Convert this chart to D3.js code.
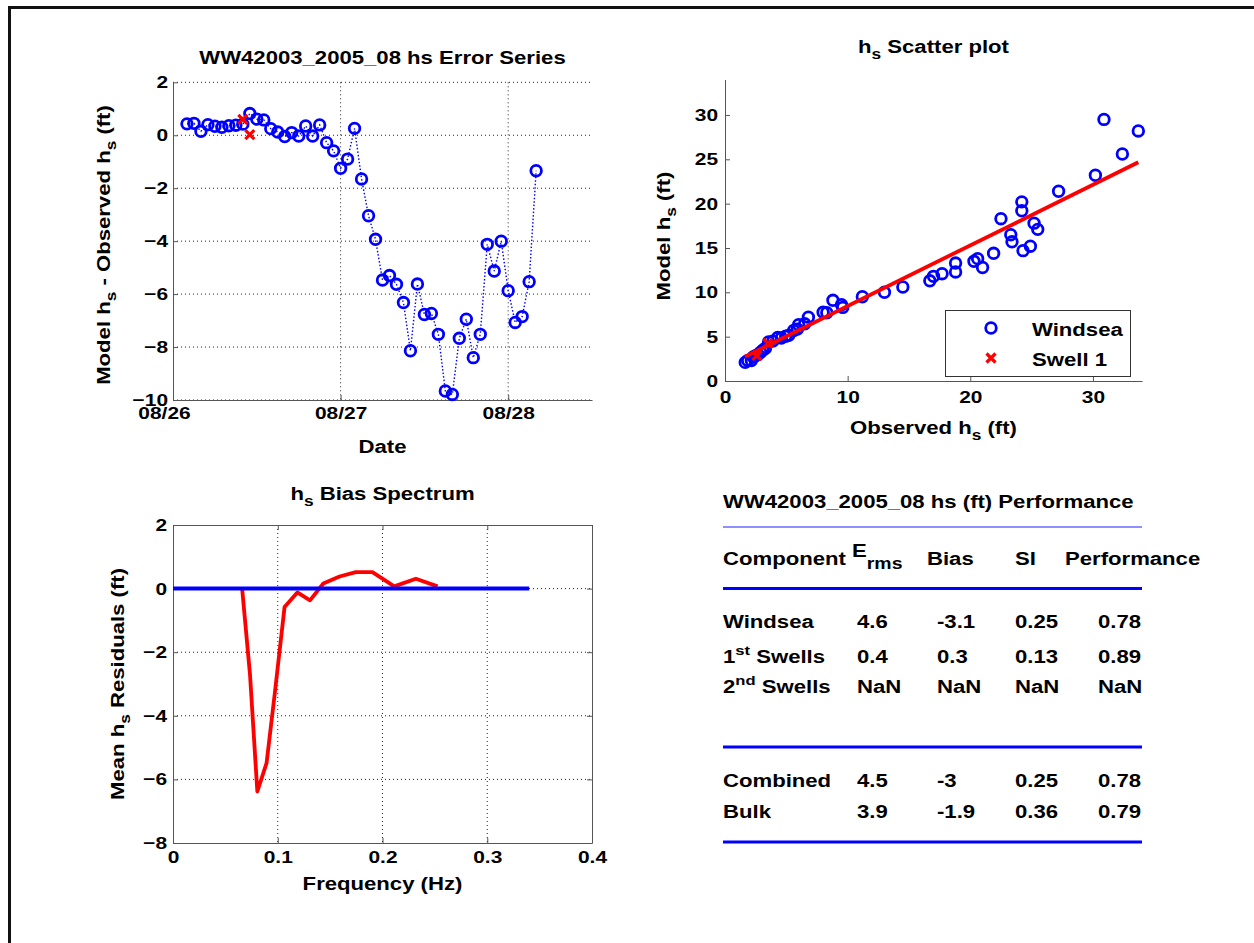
<!DOCTYPE html>
<html><head><meta charset="utf-8">
<script src="https://cdn.jsdelivr.net/npm/d3@7"></script>
<style>
html,body{margin:0;padding:0;background:#fff;}
svg{display:block;}
text{font-family:"Liberation Sans",Arial,Helvetica,sans-serif;font-weight:bold;fill:#000;white-space:pre;}
</style></head><body>
<svg id="fig" width="1254" height="943"></svg>
<script>
// ---------------- DATA ----------------
// Error series (Model hs - Observed hs), hours after 2005-08-26 00:00 UTC
const errStart = "2005-08-26T00:00:00Z";
const errHours = [2,3,4,5,6,7,8,9,10,11,12,13,14,15,16,17,18,19,20,21,22,23,24,25,26,27,28,29,30,31,32,33,34,35,36,37,38,39,40,41,42,43,44,45,46,47,48,49,50,51,52];
const errWindsea = [0.43,0.45,0.15,0.40,0.34,0.30,0.36,0.38,0.42,0.82,0.61,0.58,0.25,0.12,-0.05,0.10,-0.03,0.35,-0.03,0.39,-0.28,-0.59,-1.25,-0.90,0.26,-1.65,-3.04,-3.93,-5.47,-5.30,-5.63,-6.32,-8.14,-5.62,-6.77,-6.73,-7.52,-9.66,-9.79,-7.67,-6.95,-8.40,-7.52,-4.12,-5.13,-4.00,-5.87,-7.07,-6.85,-5.53,-1.34];
const swellHours = [10, 11];
const errSwell = [0.60, 0.02];
const dateTicks = ["2005-08-26T00:00:00Z","2005-08-27T00:00:00Z","2005-08-28T00:00:00Z"];
const dateTickLabels = ["08/26","08/27","08/28"];
const errEnd = "2005-08-28T12:00:00Z";
const errYTicks = [2,0,-2,-4,-6,-8,-10];

// Scatter plot
const obsWindsea = [1.65,1.85,2.15,2.30,2.50,2.70,2.90,3.10,3.30,3.55,3.90,4.30,4.60,4.95,5.20,5.60,5.90,6.00,6.50,6.80,8.00,8.30,9.60,9.50,8.80,11.20,13.00,14.50,16.70,17.00,17.70,18.80,21.00,18.80,20.60,20.30,21.90,24.30,24.90,23.40,23.30,25.50,25.20,22.50,24.20,24.20,27.20,30.20,32.40,33.70,30.90];
const modWindsea = [2.10,2.30,2.30,2.70,2.85,3.00,3.25,3.50,3.70,4.40,4.50,4.90,4.85,5.05,5.15,5.70,5.85,6.35,6.45,7.20,7.75,7.70,8.30,8.60,9.10,9.50,10.00,10.60,11.30,11.80,12.10,12.30,12.80,13.30,13.80,13.50,14.40,14.70,15.20,15.70,16.50,17.10,17.80,18.30,19.20,20.20,21.40,23.20,25.60,28.20,29.50];
const obsSwell = [3.50, 2.60];
const modSwell = [4.25, 2.85];
const fitObs = [1.63, 33.70];
const fitMod = [2.74, 24.66];
const scatterMax = 34;
const scatterXTicks = [0,10,20,30];
const scatterYTicks = [0,5,10,15,20,25,30];
const legendLabels = ["Windsea","Swell 1"];

// Bias spectrum
const biasFreq = [0.0660,0.0735,0.0805,0.0893,0.0975,0.1065,0.1187,0.1308,0.1435,0.1590,0.1745,0.1904,0.2112,0.2319,0.2526];
const biasVal  = [0.00,-2.70,-6.38,-5.49,-3.20,-0.58,-0.12,-0.37,0.16,0.38,0.52,0.52,0.07,0.31,0.07];
const zeroFreq = [0, 0.34];
const zeroVal  = [0, 0];
const biasXTicks = [0,0.1,0.2,0.3,0.4];
const biasYTicks = [2,0,-2,-4,-6,-8];

// Performance table
const tableTitle = "WW42003_2005_08 hs (ft) Performance";
const tableHeaders = ["Component","E_{rms}","Bias","SI","Performance"];
const components = ["Windsea","1^{st} Swells","2^{nd} Swells","Combined","Bulk"];
const ermsVals = [4.6,0.4,NaN,4.5,3.9];
const biasVals = [-3.1,0.3,NaN,-3,-1.9];
const siVals   = [0.25,0.13,NaN,0.25,0.36];
const perfVals = [0.78,0.89,NaN,0.78,0.79];

// ---------------- DRAWING ----------------
const SX = 1.23;          // horizontal glyph stretch of the original figure
const BLUE = "#0000ff", RED = "#ff0000", AX = "#555";
const R = 5.3, RW = 2.8;  // circle marker
const XM = "M-4.5,-4.5L4.5,4.5M-4.5,4.5L4.5,-4.5";
const svg = d3.select("#fig");

function rich(parent, x, y, str, o = {}) {
  const size = o.size || 18, anchor = o.anchor || "start", rot = o.rotate || 0;
  const subShift = o.subShift != null ? o.subShift : 0.36 * size;
  const supShift = o.supShift != null ? o.supShift : -0.45 * size;
  const subScale = o.subScale || 0.78;
  const g = parent.append("g").attr("transform", `translate(${x},${y}) rotate(${rot}) scale(${SX},1)`);
  const t = g.append("text").attr("text-anchor", anchor).style("font-size", size + "px");
  const re = /([_^])\{([^}]*)\}/g; let last = 0, m, cur = 0;
  const add = (s, shift, fs) => { if (!s) return; t.append("tspan").attr("dy", shift - cur).style("font-size", fs + "px").text(s); cur = shift; };
  while ((m = re.exec(str)) !== null) {
    add(str.slice(last, m.index), 0, size);
    add(m[2], m[1] === "_" ? subShift : supShift, size * subScale);
    last = re.lastIndex;
  }
  add(str.slice(last), 0, size);
  return g;
}

function styleAxis(g, padX, isLeft) {
  g.attr("font-family", null).attr("font-size", null);
  g.select(".domain").attr("stroke", AX).attr("stroke-width", 1);
  g.selectAll(".tick line").attr("stroke", AX).attr("stroke-width", 1);
  const tx = g.selectAll(".tick text").style("font-size", "17px").attr("fill", "#000")
    .attr("transform", `scale(${SX},1)`);
  if (isLeft) tx.attr("x", -padX / SX);
}

function dotted(sel) { return sel.attr("stroke", "#222").attr("stroke-width", 1).attr("stroke-dasharray", "1,3"); }

// figure frame (top & left edges)
svg.append("line").attr("x1", 8).attr("x2", 1254).attr("y1", 7.5).attr("y2", 7.5).attr("stroke", "#111").attr("stroke-width", 3);
svg.append("line").attr("x1", 9.5).attr("x2", 9.5).attr("y1", 6).attr("y2", 943).attr("stroke", "#111").attr("stroke-width", 3);

// ===== Panel A: error series =====
(function () {
  const P = { l: 173, r: 592, t: 82.3, b: 400 };
  const t0 = new Date(errStart);
  const hd = h => new Date(t0.getTime() + h * 3600e3);
  const x = d3.scaleUtc().domain([t0, new Date(errEnd)]).range([P.l, P.r]);
  const y = d3.scaleLinear().domain([-10, 2]).range([P.b, P.t]);
  const g = svg.append("g");
  const tickDates = dateTicks.map(d => new Date(d));
  // grid
  g.append("g").selectAll("line.h").data(errYTicks).join("line")
    .attr("x1", P.l).attr("x2", P.r).attr("y1", d => y(d)).attr("y2", d => y(d)).call(dotted);
  g.append("g").selectAll("line.v").data(tickDates.slice(1)).join("line")
    .attr("x1", d => x(d)).attr("x2", d => x(d)).attr("y1", P.t).attr("y2", P.b).call(dotted);
  // axes
  const ax = g.append("g").attr("transform", `translate(0,${P.b})`)
    .call(d3.axisBottom(x).tickValues(tickDates).tickFormat((d, i) => dateTickLabels[i]).tickSizeInner(-5).tickSizeOuter(0).tickPadding(7));
  styleAxis(ax, 0, false);
  // first date label sits a little left of its tick in the original
  ax.selectAll(".tick text").filter((d, i) => i === 0).attr("x", -9 / SX);
  const ay = g.append("g").attr("transform", `translate(${P.l},0)`)
    .call(d3.axisLeft(y).tickValues(errYTicks).tickSizeInner(-5).tickSizeOuter(0).tickPadding(5));
  styleAxis(ay, 5, true);
  // data
  const pts = errHours.map((h, i) => ({ t: hd(h), v: errWindsea[i] }));
  g.append("path").datum(pts).attr("fill", "none").attr("stroke", BLUE).attr("stroke-width", 1.4)
    .attr("stroke-dasharray", "1.5,2").attr("d", d3.line().x(d => x(d.t)).y(d => y(d.v)));
  g.append("g").selectAll("circle").data(pts).join("circle")
    .attr("cx", d => x(d.t)).attr("cy", d => y(d.v)).attr("r", R)
    .attr("fill", "none").attr("stroke", BLUE).attr("stroke-width", RW);
  const sw = swellHours.map((h, i) => ({ t: hd(h), v: errSwell[i] }));
  g.append("g").selectAll("path.x").data(sw).join("path")
    .attr("transform", d => `translate(${x(d.t)},${y(d.v)})`)
    .attr("d", XM).attr("stroke", RED).attr("stroke-width", 3.2).attr("fill", "none");
  // labels
  rich(g, (P.l + P.r) / 2, 64, "WW42003_2005_08 hs Error Series", { anchor: "middle" });
  rich(g, (P.l + P.r) / 2, 452.5, "Date", { anchor: "middle" });
  rich(g, 109.5, 245, "Model h_{s} - Observed h_{s} (ft)", { anchor: "middle", rotate: -90 });
})();

// ===== Panel B: scatter =====
(function () {
  const P = { l: 725, r: 1142, t: 79.5, b: 381 };
  const x = d3.scaleLinear().domain([0, scatterMax]).range([P.l, P.r]);
  const y = d3.scaleLinear().domain([0, scatterMax]).range([P.b, P.t]);
  const g = svg.append("g");
  const ax = g.append("g").attr("transform", `translate(0,${P.b})`)
    .call(d3.axisBottom(x).tickValues(scatterXTicks).tickSizeInner(-5).tickSizeOuter(0).tickPadding(10));
  styleAxis(ax, 0, false);
  const ay = g.append("g").attr("transform", `translate(${P.l},0)`)
    .call(d3.axisLeft(y).tickValues(scatterYTicks).tickSizeInner(-5).tickSizeOuter(0).tickPadding(7));
  styleAxis(ay, 7, true);
  const pts = obsWindsea.map((o, i) => ({ o, m: modWindsea[i] }));
  g.append("g").selectAll("circle").data(pts).join("circle")
    .attr("cx", d => x(d.o)).attr("cy", d => y(d.m)).attr("r", R)
    .attr("fill", "none").attr("stroke", BLUE).attr("stroke-width", RW);
  const fit = fitObs.map((o, i) => ({ o, m: fitMod[i] }));
  g.append("path").datum(fit).attr("fill", "none").attr("stroke", RED).attr("stroke-width", 3.8)
    .attr("d", d3.line().x(d => x(d.o)).y(d => y(d.m)));
  const sw = obsSwell.map((o, i) => ({ o, m: modSwell[i] }));
  g.append("g").selectAll("path.x").data(sw).join("path")
    .attr("transform", d => `translate(${x(d.o)},${y(d.m)})`)
    .attr("d", XM).attr("stroke", RED).attr("stroke-width", 3.2).attr("fill", "none");
  // legend
  const L = g.append("g");
  L.append("rect").attr("x", 945.5).attr("y", 310.5).attr("width", 185).attr("height", 66)
    .attr("fill", "#fff").attr("stroke", "#333").attr("stroke-width", 1);
  L.append("circle").attr("cx", 991).attr("cy", 328).attr("r", R).attr("fill", "none").attr("stroke", BLUE).attr("stroke-width", RW);
  L.append("path").attr("transform", "translate(991,358)").attr("d", XM).attr("stroke", RED).attr("stroke-width", 3.2);
  rich(L, 1032, 335.5, legendLabels[0]);
  rich(L, 1032, 366, legendLabels[1]);
  // labels
  rich(g, (P.l + P.r) / 2, 53, "h_{s} Scatter plot", { anchor: "middle" });
  rich(g, (P.l + P.r) / 2, 434, "Observed h_{s} (ft)", { anchor: "middle" });
  rich(g, 670, 236, "Model h_{s} (ft)", { anchor: "middle", rotate: -90 });
})();

// ===== Panel C: bias spectrum =====
(function () {
  const P = { l: 173, r: 592, t: 525, b: 843 };
  const x = d3.scaleLinear().domain([0, 0.4]).range([P.l, P.r]);
  const y = d3.scaleLinear().domain([-8, 2]).range([P.b, P.t]);
  const g = svg.append("g");
  g.append("g").selectAll("line").data(biasYTicks.slice(1, -1)).join("line")
    .attr("x1", P.l).attr("x2", P.r).attr("y1", d => y(d)).attr("y2", d => y(d)).call(dotted);
  g.append("g").selectAll("line").data(biasXTicks.slice(1, -1)).join("line")
    .attr("x1", d => x(d)).attr("x2", d => x(d)).attr("y1", P.t).attr("y2", P.b).call(dotted);
  const ax = g.append("g").attr("transform", `translate(0,${P.b})`)
    .call(d3.axisBottom(x).tickValues(biasXTicks).tickFormat(d3.format("")).tickSizeInner(-5).tickSizeOuter(0).tickPadding(8));
  styleAxis(ax, 0, false);
  const ay = g.append("g").attr("transform", `translate(${P.l},0)`)
    .call(d3.axisLeft(y).tickValues(biasYTicks).tickSizeInner(-5).tickSizeOuter(0).tickPadding(6));
  styleAxis(ay, 6, true);
  const at = g.append("g").attr("transform", `translate(0,${P.t})`)
    .call(d3.axisTop(x).tickValues(biasXTicks).tickFormat("").tickSizeInner(-5).tickSizeOuter(0));
  styleAxis(at, 0, false);
  const ar = g.append("g").attr("transform", `translate(${P.r},0)`)
    .call(d3.axisRight(y).tickValues(biasYTicks).tickFormat("").tickSizeInner(-5).tickSizeOuter(0));
  styleAxis(ar, 0, false);
  const line = d3.line().x(d => x(d[0])).y(d => y(d[1]));
  g.append("path").datum(biasFreq.map((f, i) => [f, biasVal[i]])).attr("fill", "none")
    .attr("stroke", RED).attr("stroke-width", 3.8).attr("stroke-linejoin", "round").attr("d", line);
  g.append("path").datum(zeroFreq.map((f, i) => [f, zeroVal[i]])).attr("fill", "none")
    .attr("stroke", BLUE).attr("stroke-width", 4).attr("d", line);
  rich(g, (P.l + P.r) / 2, 500, "h_{s} Bias Spectrum", { anchor: "middle" });
  rich(g, (P.l + P.r) / 2, 890, "Frequency (Hz)", { anchor: "middle" });
  rich(g, 123.5, 684, "Mean h_{s} Residuals (ft)", { anchor: "middle", rotate: -90 });
})();

// ===== Panel D: performance table =====
(function () {
  const g = svg.append("g");
  const x0 = 723, x1 = 1142;
  const colHead = [723, 852, 927, 1015, 1065];
  const colVal = [723, 857, 937, 1015, 1098];
  const rowY = [628, 663, 693, 787, 818];
  rich(g, x0, 508, tableTitle);
  g.append("line").attr("x1", x0).attr("x2", x1).attr("y1", 527).attr("y2", 527).attr("stroke", "#6a6aff").attr("stroke-width", 1.5);
  tableHeaders.forEach((h, i) => {
    if (i === 1) rich(g, colHead[i], 557, h, { subShift: 12, subScale: 0.88 });
    else rich(g, colHead[i], 565, h);
  });
  [588.5, 747, 842].forEach(yy => g.append("line").attr("x1", x0).attr("x2", x1).attr("y1", yy).attr("y2", yy)
    .attr("stroke", BLUE).attr("stroke-width", 3));
  components.forEach((c, r) => {
    rich(g, colVal[0], rowY[r], c, { supShift: -8, subScale: 0.75 });
    [ermsVals, biasVals, siVals, perfVals].forEach((arr, k) => rich(g, colVal[k + 1], rowY[r], String(arr[r])));
  });
})();
</script>
</body></html>
